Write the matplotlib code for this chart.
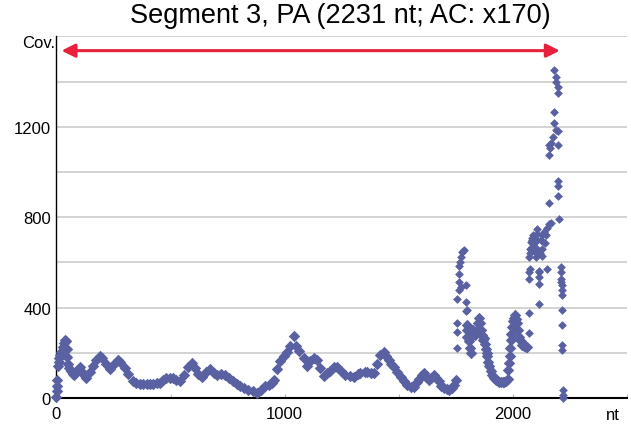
import matplotlib
matplotlib.use('Agg')
import matplotlib.pyplot as plt
from matplotlib.ticker import MultipleLocator, FixedLocator

plt.rcParams['font.family'] = ['Liberation Sans', 'DejaVu Sans']

# coverage profile (nt position, coverage)
pos_main = [0, 1, 2, 3, 5, 9, 13, 17, 22, 27, 32, 37, 41, 44, 47, 50,
            57, 65, 72, 79, 90, 101, 112, 123, 130, 145, 160, 175, 189, 200,
            215, 233, 250, 270, 280, 299, 315, 335, 350, 365, 380, 395, 410,
            423, 440, 455, 467, 482, 497, 511, 525, 541, 560, 575, 592, 607,
            621, 636, 655, 672, 690, 702, 720, 738, 755, 775, 790, 804, 820,
            841, 860, 878, 895, 914, 930, 944, 955, 966, 980, 995, 1010, 1025,
            1039, 1050, 1065, 1083, 1097, 1112, 1127, 1141, 1156, 1171, 1185,
            1200, 1215, 1229, 1245, 1266, 1285, 1302, 1320, 1332, 1350, 1361,
            1378, 1390, 1405, 1420, 1434, 1445, 1456, 1468, 1478, 1493, 1508,
            1522, 1537, 1552, 1566, 1578, 1588, 1600, 1610, 1621, 1632, 1643,
            1654, 1665, 1676, 1687, 1698, 1710, 1720, 1732, 1742, 1749]
cov_main = [5, 30, 55, 80, 140, 160, 175, 190, 205, 225, 245, 256, 250, 215, 180, 150,
            132, 120, 108, 100, 120, 135, 115, 97, 90, 115, 140, 170, 185, 175,
            150, 128, 150, 170, 160, 132, 105, 75, 65, 60, 60, 62, 60,
            62, 68, 65, 80, 88, 88, 88, 80, 75, 100, 135, 155, 132,
            105, 95, 115, 130, 110, 102, 105, 100, 88, 73, 60, 51, 42,
            37, 30, 22, 35, 51, 58, 66, 80, 130, 162, 185, 205, 230,
            275, 228, 210, 175, 140, 165, 176, 170, 132, 98, 110,
            120, 135, 135, 118, 102, 98, 95, 105, 110, 115, 117,
            112, 110, 150, 190, 205, 185, 168, 150, 139, 115, 95,
            75, 59, 48, 50, 70, 85, 100, 110, 95, 78, 90,
            102, 90, 73, 55, 44, 40, 37, 45, 59, 81]

pos_peak1 = [1757, 1757, 1757, 1757, 1762, 1764, 1764, 1766, 1768, 1771, 1771,
             1778, 1782, 1786, 1793, 1794, 1795, 1798]
cov_peak1 = [220, 293, 330, 440, 476, 513, 549, 586, 600, 491, 623,
             645, 652, 655, 498, 425, 385, 388]

pos_dip = [1800, 1800, 1800, 1806, 1808, 1812, 1815, 1815, 1820, 1824, 1830,
           1836, 1842, 1848, 1852, 1856, 1860, 1864, 1868, 1872, 1876, 1881,
           1886, 1889, 1892, 1896, 1903, 1910, 1918, 1926, 1934, 1940, 1948,
           1955, 1962, 1970, 1977, 1981, 1984, 1987, 1989, 1991, 1994, 1998,
           2002, 2006, 2010, 2015, 2019, 2024, 2028, 2034, 2042, 2050, 2057, 2064]
cov_dip = [325, 300, 270, 310, 250, 220, 197, 300, 280, 300, 290,
           280, 300, 330, 355, 330, 300, 280, 255, 265, 240, 215,
           200, 185, 160, 140, 118, 100, 88, 80, 75, 72, 70,
           70, 70, 75, 85, 125, 155, 185, 220, 256, 285, 315,
           340, 355, 366, 350, 330, 300, 271, 250, 234, 228, 225, 227]

pos_peak2 = [2072, 2072, 2072, 2072, 2072, 2075, 2076, 2077, 2080, 2082, 2084,
             2086, 2088, 2090, 2092, 2094, 2096, 2100, 2102, 2104, 2108, 2108,
             2112, 2116, 2116, 2116, 2116, 2116, 2120, 2124, 2128, 2130, 2130,
             2130, 2136, 2142, 2145, 2148, 2152, 2160, 2167, 2160, 2204, 2196,
             2196, 2196, 2160, 2165, 2160, 2167, 2174, 2196, 2196, 2189, 2179,
             2182, 2196, 2196, 2189, 2189, 2182]
cov_peak2 = [286, 374, 527, 557, 623, 571, 640, 660, 690, 670, 710,
             700, 680, 720, 650, 700, 690, 625, 665, 700, 725, 747,
             640, 418, 505, 535, 557, 564, 640, 700, 720, 630, 659,
             696, 735, 688, 720, 750, 571, 769, 776, 865, 791, 894,
             938, 960, 1077, 1106, 1121, 1128, 1157, 1121, 1180, 1187, 1216,
             1267, 1351, 1377, 1399, 1421, 1451]

pos_tail = [2212, 2212, 2213, 2213, 2214, 2214, 2215, 2215, 2216, 2217, 2217,
            2218, 2218, 2219]
cov_tail = [579, 557, 527, 513, 498, 476, 454, 388, 322, 234, 212, 37, 15, 0]

x_ticks = [0, 1000, 2000]
y_ticks = [0, 400, 800, 1200]

dot = '#5a61a2'

fig = plt.figure(figsize=(6.31, 4.27), dpi=100)
ax = fig.add_axes([0.0895, 0.0656, 0.904, 0.8468])

# dense stretches get bigger marks so they merge into a band
for xs, ys, size in [(pos_main, cov_main, 34), (pos_dip, cov_dip, 34),
                     (pos_peak1, cov_peak1, 20), (pos_peak2, cov_peak2, 20),
                     (pos_tail, cov_tail, 20)]:
    ax.scatter(xs, ys, marker='D', s=size, color=dot, linewidths=0, zorder=3, clip_on=False)

# amplicon arrow
ax.annotate('', xy=(2206, 1537), xytext=(22, 1537),
            arrowprops=dict(arrowstyle='<|-|>', color='#e8203a', lw=2.2,
                            mutation_scale=20, shrinkA=0, shrinkB=0))

ax.set_xlim(0, 2500)
ax.set_ylim(0, 1600)
ax.yaxis.set_major_locator(FixedLocator(y_ticks))
ax.yaxis.set_minor_locator(MultipleLocator(200))
ax.xaxis.set_major_locator(FixedLocator(x_ticks))
ax.xaxis.set_minor_locator(MultipleLocator(500))
ax.grid(True, axis='y', which='both', color='#c8c8c8', lw=1.1, zorder=0)
ax.set_axisbelow(True)

for s in ['top', 'right']:
    ax.spines[s].set_visible(False)
ax.spines['left'].set_linewidth(1.0)
ax.spines['bottom'].set_linewidth(1.5)

ax.tick_params(axis='y', which='both', length=0, pad=4, labelsize=12)
ax.tick_params(axis='x', which='both', direction='in', length=3, color='#aaaaaa',
               pad=6, labelsize=12)

fig.text(0.54, 0.963, 'Segment 3, PA (2231 nt; AC: x170)', ha='center', va='center',
         fontsize=19.5)
fig.text(0.087, 1 - 44 / 427, 'Cov.', ha='right', va='center', fontsize=12)
fig.text(613 / 631, 1 - 416 / 427, 'nt', ha='center', va='center', fontsize=12)

fig.savefig('out.png', dpi=100)
